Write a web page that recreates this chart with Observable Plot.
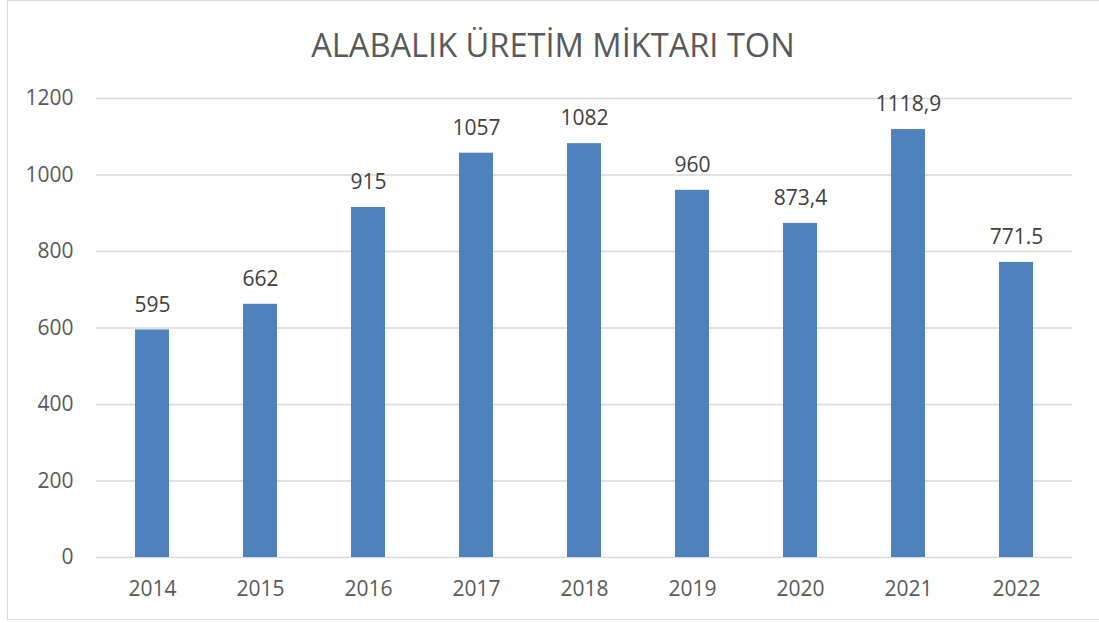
<!DOCTYPE html>
<html>
<head>
<meta charset="utf-8">
<script src="https://cdn.jsdelivr.net/npm/d3@7"></script>
<script src="https://cdn.jsdelivr.net/npm/@observablehq/plot@0.6"></script>
<style>
  html, body { margin: 0; padding: 0; background: #fff; }
  #frame { position: absolute; left: 7px; top: 0; width: 1100px; height: 620px; box-sizing: border-box; border: 1.5px solid #d9d9d9; pointer-events: none; }
  #title { margin-left: 7px; width: 1092px; height: 80px; box-sizing: border-box; padding-top: 28px; line-height: 33px; font-size: 32.6px; font-family: "Open Sans", sans-serif; color: #595959; text-align: center; }
  #chart svg { display: block; }
</style>
</head>
<body>
<div id="title">ALABALIK ÜRETİM MİKTARI TON</div>
<div id="chart"></div>
<div id="frame"></div>
<script>
const years = ["2014", "2015", "2016", "2017", "2018", "2019", "2020", "2021", "2022"];
const values = [595, 662, 915, 1057, 1082, 960, 873.4, 1118.9, 771.5];
const valueLabels = ["595", "662", "915", "1057", "1082", "960", "873,4", "1118,9", "771.5"];
const yTicks = [0, 200, 400, 600, 800, 1000, 1200];

const data = years.map((y, i) => ({year: y, value: values[i], label: valueLabels[i]}));

const chart = Plot.plot({
  width: 1099,
  height: 543,
  marginLeft: 96,
  marginRight: 27,
  marginTop: 18,
  marginBottom: 66,
  style: {fontFamily: "'Open Sans', sans-serif", fontSize: "21px", color: "#595959", background: "transparent"},
  x: {domain: years, paddingInner: 0.686, paddingOuter: 0.343, label: null},
  y: {domain: [0, 1200], label: null},
  marks: [
    Plot.gridY(yTicks, {stroke: "#d9d9d9", strokeOpacity: 1, strokeWidth: 1.3}),
    Plot.barY(data, {x: "year", y: "value", fill: "#4f81bd"}),
    Plot.text(data, {x: "year", y: "value", text: "label", lineAnchor: "middle", dy: -25, fill: "#404040", fontSize: 21}),
    Plot.axisY(yTicks, {tickSize: 0, tickPadding: 23, tickFormat: d => String(d), fill: "#595959", fontSize: 21, label: null}),
    Plot.axisX({tickSize: 0, tickPadding: 24, fill: "#595959", fontSize: 21, label: null})
  ]
});
document.getElementById("chart").appendChild(chart);
</script>
</body>
</html>
